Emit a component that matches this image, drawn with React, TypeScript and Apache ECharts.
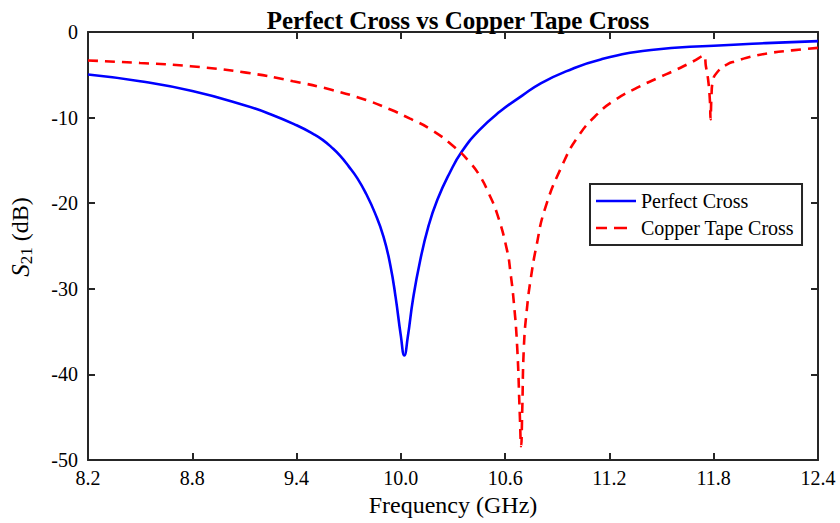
import React, { useEffect, useRef } from "react";
import * as echarts from "echarts";

const titleText = "Perfect Cross vs Copper Tape Cross";
const xTicks = [8.2, 8.8, 9.4, 10.0, 10.6, 11.2, 11.8, 12.4];

const perfectFreq = [
  8.2, 8.5, 8.8, 9.1, 9.25, 9.4, 9.5, 9.55, 9.6, 9.65, 9.7, 9.75, 9.8, 9.85, 9.9, 9.94, 9.97, 10.0, 10.02,
  10.04, 10.07, 10.11, 10.16, 10.21, 10.28, 10.35, 10.45, 10.57, 10.7, 10.8, 10.95, 11.15, 11.44, 11.8, 12.1,
  12.4,
];
const perfectDb = [
  -4.97, -5.75, -6.9, -8.55, -9.6, -10.9, -11.95, -12.6, -13.45, -14.45, -15.7, -17.1, -18.9, -21.1, -23.9,
  -27.3, -31.0, -35.5, -37.8, -35.6, -31.2, -26.8, -22.6, -19.6, -16.5, -14.0, -11.5, -9.3, -7.4, -6.05, -4.6,
  -3.2, -2.1, -1.6, -1.3, -1.07,
];

const copperFreq = [
  8.2, 8.5, 8.79, 9.11, 9.38, 9.6, 9.8, 9.94, 10.05, 10.17, 10.306, 10.4, 10.46, 10.5, 10.555, 10.612, 10.63,
  10.65, 10.669, 10.684, 10.692, 10.698, 10.708, 10.725, 10.746, 10.78, 10.83, 10.93, 11.02, 11.13, 11.236,
  11.36, 11.476, 11.59, 11.68, 11.744, 11.755, 11.768, 11.778, 11.782, 11.787, 11.794, 11.82, 11.88, 11.93,
  11.99, 12.11, 12.25, 12.4,
];
const copperDb = [
  -3.33, -3.62, -4.0, -4.75, -5.75, -6.75, -7.95, -9.06, -10.1, -11.35, -13.4, -15.3, -17.0, -18.6, -21.3,
  -25.6, -28.0, -31.6, -36.7, -44.5, -48.4, -44.5, -36.7, -32.4, -29.0, -25.0, -20.6, -15.5, -12.2, -9.6,
  -7.9, -6.5, -5.4, -4.35, -3.45, -2.75, -4.0, -5.6, -8.0, -10.2, -7.5, -5.8, -4.7, -3.75, -3.4, -3.0, -2.5,
  -2.15, -1.85,
];

const FONT = "'Liberation Serif', 'Times New Roman', serif";
const AXIS_COLOR = "#262626";
const BLUE_ICON = "path://M0,0h0.05v0.05h-0.05z M0,5.75h40v2.5h-40z M39.95,13.95h0.05v0.05h-0.05z";
const RED_ICON = "path://M0,0h0.05v0.05h-0.05z M0,5.75h11v2.5h-11z M18,5.75h13v2.5h-13z M39.95,13.95h0.05v0.05h-0.05z";

export default function App() {
  const ref = useRef<HTMLDivElement>(null);
  useEffect(() => {
    if (!ref.current) return;
    const chart = echarts.init(ref.current, undefined, { renderer: "svg" });
    const axisLine = { show: true, onZero: false, lineStyle: { color: AXIS_COLOR, width: 2 } };
    const tick = { show: true, inside: true, length: 7, lineStyle: { color: AXIS_COLOR, width: 2 } };
    chart.setOption({
      animation: false,
      backgroundColor: "#fff",
      title: {
        text: titleText,
        left: 453,
        textAlign: "center",
        top: 3,
        textStyle: { fontFamily: FONT, fontWeight: "bold", fontSize: 25, color: "#000" },
      },
      grid: { left: 88, right: 22, top: 32, bottom: 63, containLabel: false, outerBoundsMode: "none" },
      legend: {
        orient: "vertical",
        left: 590,
        top: 184,
        backgroundColor: "#fff",
        borderColor: AXIS_COLOR,
        borderWidth: 2,
        borderRadius: 0,
        padding: [7, 8, 7, 6],
        itemWidth: 40,
        itemHeight: 14,
        itemGap: 7,
        symbolKeepAspect: false,
        textStyle: { fontFamily: FONT, fontSize: 20, color: "#000" },
        data: [
          { name: "Perfect Cross", icon: BLUE_ICON, itemStyle: { color: "#0000ff", borderWidth: 0 } },
          { name: "Copper Tape Cross", icon: RED_ICON, itemStyle: { color: "#ff0000", borderWidth: 0 } },
        ],
      },
      xAxis: [
        {
          type: "value",
          position: "bottom",
          min: 8.2,
          max: 12.4,
          axisLine,
          axisTick: { ...tick, customValues: xTicks },
          axisLabel: {
            customValues: xTicks,
            formatter: (v: number) => v.toFixed(1),
            fontFamily: FONT,
            fontSize: 20,
            color: "#000",
            margin: 8,
          },
          splitLine: { show: false },
          name: "Frequency (GHz)",
          nameLocation: "middle",
          nameGap: 32,
          nameTextStyle: { fontFamily: FONT, fontSize: 24, color: "#000" },
        },
        {
          type: "value",
          position: "top",
          min: 8.2,
          max: 12.4,
          axisLine,
          axisTick: { ...tick, customValues: xTicks },
          axisLabel: { show: false },
          splitLine: { show: false },
        },
      ],
      yAxis: [
        {
          type: "value",
          position: "left",
          min: -50,
          max: 0,
          interval: 10,
          axisLine,
          axisTick: tick,
          axisLabel: { fontFamily: FONT, fontSize: 20, color: "#000", margin: 10 },
          splitLine: { show: false },
          name: "{i|S}{s|21}{n| (dB)}",
          nameLocation: "middle",
          nameGap: 53,
          nameRotate: 90,
          nameTextStyle: {
            padding: [0, 0, 0, 18],
            rich: {
              i: { fontFamily: FONT, fontSize: 25, fontStyle: "italic", color: "#000", lineHeight: 30, verticalAlign: "middle" },
              s: { fontFamily: FONT, fontSize: 17, color: "#000", lineHeight: 17, verticalAlign: "bottom" },
              n: { fontFamily: FONT, fontSize: 24, color: "#000", lineHeight: 30, verticalAlign: "middle" },
            },
          },
        },
        {
          type: "value",
          position: "right",
          min: -50,
          max: 0,
          interval: 10,
          axisLine,
          axisTick: tick,
          axisLabel: { show: false },
          splitLine: { show: false },
        },
      ],
      series: [
        {
          name: "Perfect Cross",
          type: "line",
          xAxisIndex: 0,
          yAxisIndex: 0,
          symbol: "none",
          showSymbol: false,
          smooth: 0.5,
          lineStyle: { color: "#0000ff", width: 2.6 },
          itemStyle: { color: "#0000ff" },
          data: perfectFreq.map((f, i) => [f, perfectDb[i]]),
        },
        {
          name: "Copper Tape Cross",
          type: "line",
          xAxisIndex: 0,
          yAxisIndex: 0,
          symbol: "none",
          showSymbol: false,
          smooth: 0.5,
          lineStyle: { color: "#ff0000", width: 2.6, type: [10, 7] },
          itemStyle: { color: "#ff0000" },
          data: copperFreq.map((f, i) => [f, copperDb[i]]),
        },
      ],
    });
    return () => chart.dispose();
  }, []);
  return <div ref={ref} style={{ width: 840, height: 523, position: "absolute", left: 0, top: 0 }} />;
}
